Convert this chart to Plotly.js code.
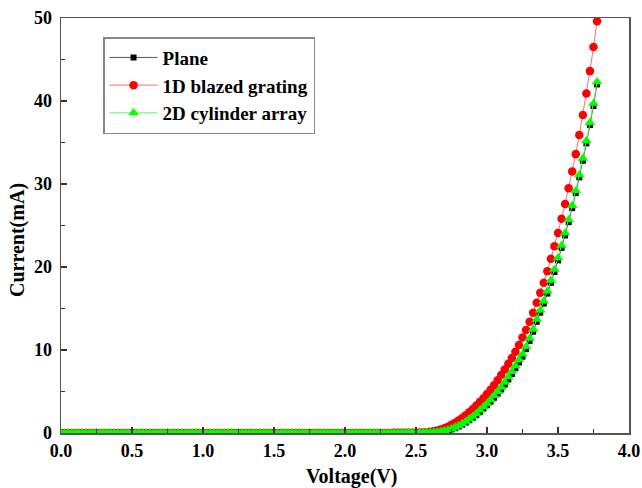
<!DOCTYPE html>
<html>
<head>
<meta charset="utf-8">
<script src="https://cdn.plot.ly/plotly-3.0.1.min.js"></script>
<style>html,body{margin:0;padding:0;background:#fff;}#chart{width:642px;height:488px;}</style>
</head>
<body>
<div id="chart"></div>
<script>
const voltage = [
0.000,0.025,0.050,0.075,0.100,0.125,0.150,0.175,0.200,0.225,
0.250,0.275,0.300,0.325,0.350,0.375,0.400,0.425,0.450,0.475,
0.500,0.525,0.550,0.575,0.600,0.625,0.650,0.675,0.700,0.725,
0.750,0.775,0.800,0.825,0.850,0.875,0.900,0.925,0.950,0.975,
1.000,1.025,1.050,1.075,1.100,1.125,1.150,1.175,1.200,1.225,
1.250,1.275,1.300,1.325,1.350,1.375,1.400,1.425,1.450,1.475,
1.500,1.525,1.550,1.575,1.600,1.625,1.650,1.675,1.700,1.725,
1.750,1.775,1.800,1.825,1.850,1.875,1.900,1.925,1.950,1.975,
2.000,2.025,2.050,2.075,2.100,2.125,2.150,2.175,2.200,2.225,
2.250,2.275,2.300,2.325,2.350,2.375,2.400,2.425,2.450,2.475,
2.500,2.525,2.550,2.575,2.600,2.625,2.650,2.675,2.700,2.725,
2.750,2.775,2.800,2.825,2.850,2.875,2.900,2.925,2.950,2.975,
3.000,3.025,3.050,3.075,3.100,3.125,3.150,3.175,3.200,3.225,
3.250,3.275,3.300,3.325,3.350,3.375,3.400,3.425,3.450,3.475,
3.500,3.525,3.550,3.575,3.600,3.625,3.650,3.675,3.700,3.725,
3.750,3.775
];

const currentPlane = [
0,0,0,0,0,0,0,0,0,0,
0,0,0,0,0,0,0,0,0,0,
0,0,0,0,0,0,0,0,0,0,
0,0,0,0,0,0,0,0,0,0,
0,0,0,0,0,0,0,0,0,0,
0,0,0,0,0,0,0,0,0,0,
0,0,0,0,0,0,0,0,0,0,
0,0,0,0,0,0,0,0,0,0,
0,0,0,0,0,0,0,0,0,0,
0.01,0.01,0.01,0.01,0.01,0.01,0.01,0.01,0.02,0.02,
0.02,0.02,0.03,0.04,0.05,0.07,0.10,0.15,0.22,0.31,
0.43,0.58,0.77,0.99,1.25,1.54,1.84,2.17,2.55,2.95,
3.35,3.78,4.25,4.75,5.25,5.83,6.45,7.10,7.80,8.50,
9.20,10.1,11.1,12.2,13.4,14.5,15.6,16.8,18.1,19.4,
20.8,22.3,23.8,25.4,27.1,28.9,30.8,32.8,34.9,37.1,
39.4,42.0
];

const currentBlazed = [
0,0,0,0,0,0,0,0,0,0,
0,0,0,0,0,0,0,0,0,0,
0,0,0,0,0,0,0,0,0,0,
0,0,0,0,0,0,0,0,0,0,
0,0,0,0,0,0,0,0,0,0,
0,0,0,0,0,0,0,0,0,0,
0,0,0,0,0,0,0,0,0,0,
0,0,0,0,0,0,0,0,0,0,
0,0,0,0,0,0,0,0,0,0,
0.01,0.01,0.01,0.01,0.02,0.02,0.02,0.03,0.03,0.04,
0.04,0.05,0.07,0.10,0.15,0.22,0.31,0.43,0.58,0.76,
0.98,1.22,1.50,1.80,2.15,2.50,2.90,3.30,3.75,4.20,
4.70,5.20,5.75,6.35,7.00,7.65,8.35,9.05,9.80,10.6,
11.5,12.4,13.4,14.5,15.7,16.9,18.1,19.5,21.0,22.5,
24.1,25.8,27.6,29.5,31.5,33.6,35.9,38.3,40.9,43.6,
46.5,49.6
];

const currentCylinder = [
0,0,0,0,0,0,0,0,0,0,
0,0,0,0,0,0,0,0,0,0,
0,0,0,0,0,0,0,0,0,0,
0,0,0,0,0,0,0,0,0,0,
0,0,0,0,0,0,0,0,0,0,
0,0,0,0,0,0,0,0,0,0,
0,0,0,0,0,0,0,0,0,0,
0,0,0,0,0,0,0,0,0,0,
0,0,0,0,0,0,0,0,0,0,
0.01,0.01,0.01,0.01,0.01,0.01,0.02,0.02,0.02,0.02,
0.02,0.03,0.04,0.05,0.06,0.09,0.13,0.19,0.27,0.37,
0.51,0.68,0.88,1.12,1.40,1.70,2.00,2.35,2.75,3.15,
3.55,4.00,4.50,5.00,5.50,6.10,6.75,7.40,8.10,8.80,
9.50,10.4,11.4,12.5,13.7,14.8,15.9,17.1,18.4,19.7,
21.1,22.6,24.1,25.7,27.4,29.2,31.1,33.1,35.2,37.4,
39.7,42.3
];

const seriesNames = ["Plane", "1D blazed grating", "2D cylinder array"];
const xTickVals = [0, 0.5, 1.0, 1.5, 2.0, 2.5, 3.0, 3.5, 4.0];
const xTickText = ["0.0","0.5","1.0","1.5","2.0","2.5","3.0","3.5","4.0"];
const yTickVals = [0, 10, 20, 30, 40, 50];
const yTickText = ["0","10","20","30","40","50"];
const xTitle = "Voltage(V)";
const yTitle = "Current(mA)";

const serif = "Liberation Serif, Times New Roman, serif";

const traces = [
  {x: voltage, y: currentPlane, name: seriesNames[0], type: "scatter", mode: "lines+markers",
   line: {color: "#555555", width: 1}, marker: {symbol: "square", size: 6, color: "#000000"}},
  {x: voltage, y: currentBlazed, name: seriesNames[1], type: "scatter", mode: "lines+markers",
   line: {color: "#ff7070", width: 1}, marker: {symbol: "circle", size: 8.5, color: "#ff0000"}},
  {x: voltage, y: currentCylinder, name: seriesNames[2], type: "scatter", mode: "lines+markers",
   line: {color: "#50ff50", width: 1}, marker: {symbol: "triangle-up", size: 9.5, color: "#00ff00"}}
];

const axisCommon = {
  showgrid: false, zeroline: false, showline: true, linecolor: "#555555", linewidth: 1.5,
  mirror: true, ticks: "inside", ticklen: 6, tickwidth: 1.2, tickcolor: "#333333",
  tickfont: {family: serif, size: 18, color: "#000", weight: "bold"}
};

const titleFont = {family: serif, size: 20, color: "#000", weight: "bold"};

const layout = {
  width: 642, height: 488,
  margin: {l: 61, r: 13, t: 18, b: 55},
  paper_bgcolor: "#ffffff", plot_bgcolor: "#ffffff",
  showlegend: true,
  xaxis: Object.assign({}, axisCommon, {
    range: [0, 4], tickvals: xTickVals, ticktext: xTickText,
    ticklabelstandoff: 1,
    minor: {tickvals: [0.25,0.75,1.25,1.75,2.25,2.75,3.25,3.75], ticks: "inside", ticklen: 4, tickcolor: "#333333"}
  }),
  yaxis: Object.assign({}, axisCommon, {
    range: [0, 50], tickvals: yTickVals, ticktext: yTickText,
    ticklabelstandoff: 4,
    minor: {tickvals: [5,15,25,35,45], ticks: "inside", ticklen: 4, tickcolor: "#333333"}
  }),
  annotations: [
    {text: xTitle, xref: "paper", yref: "paper", x: 0.512, y: -0.104, xanchor: "center", yanchor: "middle",
     showarrow: false, font: titleFont},
    {text: yTitle, xref: "paper", yref: "paper", x: -0.0775, y: 0.465, xanchor: "center", yanchor: "middle",
     textangle: -90, showarrow: false, font: titleFont}
  ],
  legend: {
    x: 0.074, y: 0.954, xanchor: "left", yanchor: "top",
    bgcolor: "#ffffff", bordercolor: "#888888", borderwidth: 1.5,
    font: {family: serif, size: 19, color: "#000", weight: "bold"},
    itemwidth: 48,
    tracegroupgap: 0
  }
};

Plotly.newPlot("chart", traces, layout, {staticPlot: true, displayModeBar: false});
</script>
</body>
</html>
